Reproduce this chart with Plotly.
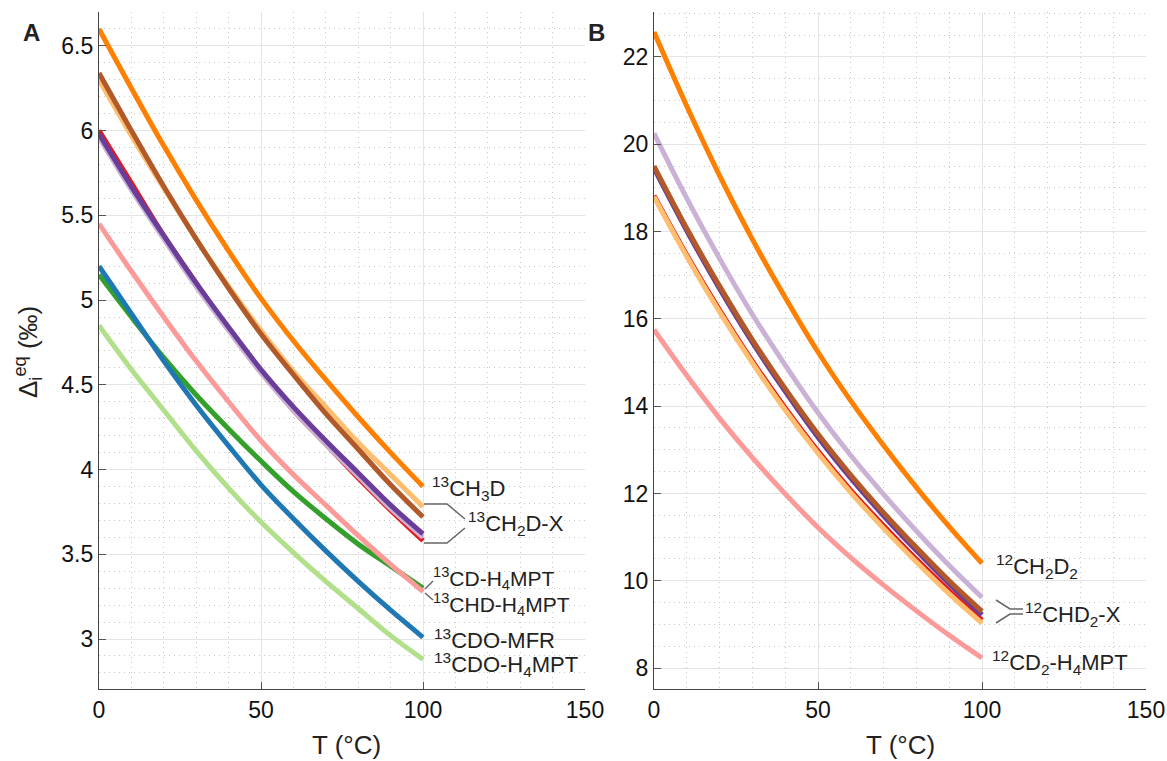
import plotly.graph_objects as go

W, H = 1167, 761

# ---------------- data ----------------
T = [0, 10, 20, 30, 40, 50, 60, 70, 80, 90, 100]

# Panel A  (Delta_i^eq, permil)
a_13CH3D       = [6.60, 6.25, 5.91, 5.59, 5.29, 5.01, 4.76, 4.53, 4.31, 4.10, 3.90]
a_brown        = [6.34, 6.00, 5.67, 5.36, 5.07, 4.80, 4.56, 4.33, 4.12, 3.91, 3.72]
a_lightorange  = [6.30, 5.97, 5.66, 5.36, 5.08, 4.82, 4.58, 4.37, 4.16, 3.97, 3.78]
a_purple       = [5.98, 5.67, 5.38, 5.10, 4.84, 4.59, 4.37, 4.17, 3.98, 3.79, 3.62]
a_red          = [6.00, 5.69, 5.38, 5.10, 4.83, 4.58, 4.35, 4.15, 3.95, 3.76, 3.58]
a_lightpurple  = [5.96, 5.65, 5.36, 5.08, 4.82, 4.57, 4.35, 4.15, 3.96, 3.77, 3.60]
a_CHD_H4MPT    = [5.45, 5.17, 4.90, 4.64, 4.40, 4.17, 3.97, 3.79, 3.61, 3.44, 3.28]
a_CD_H4MPT     = [5.15, 4.90, 4.66, 4.44, 4.24, 4.05, 3.87, 3.71, 3.56, 3.43, 3.30]
a_CDO_MFR      = [5.20, 4.92, 4.64, 4.38, 4.14, 3.91, 3.71, 3.52, 3.34, 3.17, 3.01]
a_CDO_H4MPT    = [4.85, 4.59, 4.35, 4.11, 3.89, 3.69, 3.51, 3.34, 3.18, 3.02, 2.88]

# Panel B
b_12CH2D2      = [22.57, 20.87, 19.28, 17.82, 16.49, 15.24, 14.12, 13.10, 12.14, 11.24, 10.40]
b_lightpurple  = [20.25, 18.76, 17.38, 16.10, 14.94, 13.85, 12.87, 11.98, 11.14, 10.35, 9.62]
b_brown        = [19.50, 18.07, 16.75, 15.52, 14.40, 13.36, 12.42, 11.56, 10.76, 10.00, 9.30]
b_purple       = [19.45, 18.02, 16.69, 15.46, 14.34, 13.29, 12.35, 11.49, 10.69, 9.93, 9.22]
b_red          = [18.82, 17.46, 16.20, 15.03, 13.96, 12.97, 12.07, 11.26, 10.49, 9.77, 9.10]
b_lightorange  = [18.80, 17.43, 16.16, 14.99, 13.91, 12.92, 12.02, 11.20, 10.43, 9.70, 9.03]
b_CD2_H4MPT    = [15.75, 14.70, 13.72, 12.82, 11.99, 11.22, 10.53, 9.90, 9.31, 8.75, 8.23]

C_ORANGE = "#FF7F00"; C_BROWN = "#B15928"; C_LORANGE = "#FDBF6F"
C_PURPLE = "#6A3D9A"; C_RED = "#E31A1C"; C_LPURPLE = "#CAB2D6"
C_PINK = "#FB9A99"; C_GREEN = "#33A02C"; C_BLUE = "#1F78B4"; C_LGREEN = "#B2DF8A"

LW = 5
seriesA = [
    (a_CDO_H4MPT, C_LGREEN, LW),
    (a_CD_H4MPT, C_GREEN, LW),
    (a_CDO_MFR, C_BLUE, LW),
    (a_CHD_H4MPT, C_PINK, LW),
    (a_red, C_RED, LW),
    (a_lightpurple, C_LPURPLE, LW),
    (a_purple, C_PURPLE, LW),
    (a_lightorange, C_LORANGE, LW),
    (a_brown, C_BROWN, LW),
    (a_13CH3D, C_ORANGE, LW),
]
seriesB = [
    (b_CD2_H4MPT, C_PINK, LW),
    (b_red, C_RED, LW),
    (b_lightorange, C_LORANGE, LW),
    (b_purple, C_PURPLE, LW),
    (b_brown, C_BROWN, LW),
    (b_lightpurple, C_LPURPLE, LW),
    (b_12CH2D2, C_ORANGE, LW),
]

FONT = "Liberation Sans, Arial, Helvetica, sans-serif"

fig = go.Figure()
for vals, col, w in seriesA:
    fig.add_trace(go.Scatter(x=T, y=vals, mode="lines", xaxis="x", yaxis="y",
                             line=dict(color=col, width=w, shape="spline"),
                             showlegend=False, hoverinfo="skip"))
for vals, col, w in seriesB:
    fig.add_trace(go.Scatter(x=T, y=vals, mode="lines", xaxis="x2", yaxis="y2",
                             line=dict(color=col, width=w, shape="spline"),
                             showlegend=False, hoverinfo="skip"))

def px(x): return x / W
def py(y): return 1 - y / H

axis_common = dict(showline=True, linecolor="#444444", linewidth=1.2, ticks="inside",
                   ticklen=7, tickcolor="#555555", tickwidth=1.2, showgrid=True,
                   gridcolor="#e4e4e4", gridwidth=1, zeroline=False, automargin=False,
                   tickfont=dict(size=23, color="#111111", family=FONT))

def minor(dt):
    return dict(dtick=dt, showgrid=True, gridcolor="#c9c9c9", griddash="1px,4px",
                gridwidth=1, ticks="")

yA_ticks = [3, 3.5, 4, 4.5, 5, 5.5, 6, 6.5]
yB_ticks = [8, 10, 12, 14, 16, 18, 20, 22]

fig.update_layout(
    width=W, height=H, margin=dict(l=0, r=0, t=0, b=0, autoexpand=False),
    paper_bgcolor="white", plot_bgcolor="white",
    font=dict(family=FONT, color="#111111"),
    xaxis=dict(axis_common, domain=[px(99), px(585)], range=[0, 150], tickvals=[0, 50, 100, 150],
               anchor="y", minor=minor(10)),
    yaxis=dict(axis_common, domain=[py(689), py(12)], range=[2.705, 6.70], tickvals=yA_ticks,
               ticktext=[f"{v:g}" for v in yA_ticks], anchor="x", minor=minor(0.1)),
    xaxis2=dict(axis_common, domain=[px(654), px(1146)], range=[0, 150], tickvals=[0, 50, 100, 150],
                anchor="y2", minor=minor(10)),
    yaxis2=dict(axis_common, domain=[py(689), py(12)], range=[7.52, 23.03], tickvals=yB_ticks,
                ticktext=[str(v) for v in yB_ticks], anchor="x2", minor=minor(0.5)),
)

ann = []
def label(x, y, text, size=22, anchor="left", **kw):
    ann.append(dict(x=px(x), y=py(y), xref="paper", yref="paper", text=text, showarrow=False,
                    xanchor=anchor, yanchor="middle", font=dict(size=size, color="#222222", family=FONT), **kw))

# Panel A labels
label(430, 488, "<sup>13</sup>CH<sub>3</sub>D")
label(466, 523, "<sup>13</sup>CH<sub>2</sub>D-X")
label(431, 578, "<sup>13</sup>CD-H<sub>4</sub>MPT", size=21)
label(431, 604, "<sup>13</sup>CHD-H<sub>4</sub>MPT", size=21)
label(432, 639, "<sup>13</sup>CDO-MFR")
label(432, 664, "<sup>13</sup>CDO-H<sub>4</sub>MPT")
# Panel B labels
label(994, 566, "<sup>12</sup>CH<sub>2</sub>D<sub>2</sub>")
label(1023, 614, "<sup>12</sup>CHD<sub>2</sub>-X")
label(990, 662, "<sup>12</sup>CD<sub>2</sub>-H<sub>4</sub>MPT")
# panel letters
label(31, 33, "<b>A</b>", size=24, anchor="center")
label(597, 33, "<b>B</b>", size=24, anchor="center")
# axis titles
label(346, 745, "T (°C)", size=26, anchor="center")
label(900, 745, "T (°C)", size=26, anchor="center")
label(28, 352, "Δ<sub>i</sub><sup>eq</sup> (‰)", size=26, anchor="center", textangle=-90)
fig.update_layout(annotations=ann)

# bracket connector lines
def seg(pts):
    d = "M " + " L ".join(f"{px(x)} {py(y)}" for x, y in pts)
    return dict(type="path", path=d, xref="paper", yref="paper",
                line=dict(color="#666666", width=1.5))

shapes = [
    seg([(424, 504), (447, 504), (465, 519)]),
    seg([(424, 543), (447, 543), (465, 528)]),
    seg([(425, 589), (433, 581)]),
    seg([(425, 593), (433, 600)]),
    seg([(996, 600), (1010, 609), (1023, 609)]),
    seg([(996, 623), (1010, 614), (1023, 614)]),
]
fig.update_layout(shapes=shapes)

fig.write_html("out.html")
